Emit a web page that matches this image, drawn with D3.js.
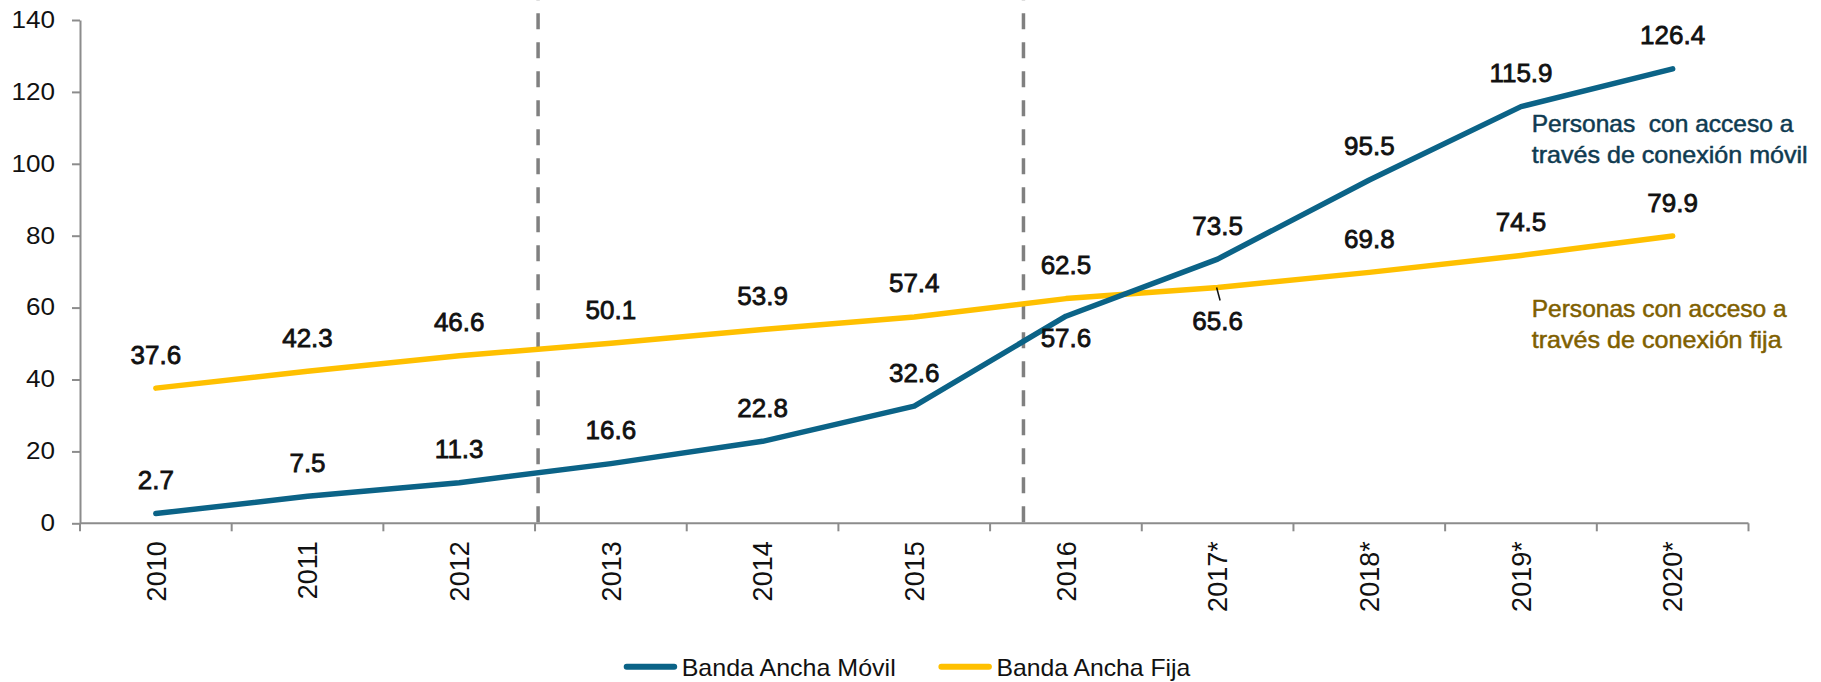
<!DOCTYPE html>
<html><head><meta charset="utf-8">
<script src="https://cdn.jsdelivr.net/npm/d3@7"></script>
<style>html,body{margin:0;padding:0;background:#fff;}svg{display:block;}</style>
</head><body>
<svg id="chart" width="1821" height="682"></svg>
<script>
const categories = ["2010","2011","2012","2013","2014","2015","2016","2017*","2018*","2019*","2020*"];
const movil = [2.7, 7.5, 11.3, 16.6, 22.8, 32.6, 57.6, 73.5, 95.5, 115.9, 126.4];
const fija  = [37.6, 42.3, 46.6, 50.1, 53.9, 57.4, 62.5, 65.6, 69.8, 74.5, 79.9];
const yTicks = [0, 20, 40, 60, 80, 100, 120, 140];
const seriesNames = ["Banda Ancha Móvil", "Banda Ancha Fija"];
const periodBreaks = [2.52, 5.72]; // category-index positions of dashed separators
const notesMovil = ["Personas  con acceso a", "través de conexión móvil"];
const notesFija = ["Personas con acceso a", "través de conexión fija"];

(function () {
const svg = d3.select("#chart");
const mLeft = 80, mRight = 1748.5, mTop = 20, mBottom = 523.3;
const axisColor = "#8c8c8c";
const cBlue = "#0b6387", cGold = "#ffc000";
const font = "Liberation Sans, Arial, sans-serif";

const x = d3.scaleBand().domain(categories).range([mLeft, mRight]).padding(0);
const xi = d3.scaleLinear().domain([-0.5, categories.length - 0.5]).range([mLeft, mRight]);
const y = d3.scaleLinear().domain([0, 140]).range([mBottom, mTop]);
const cx = c => x(c) + x.bandwidth() / 2;

// Y axis
const yAxis = svg.append("g").attr("transform", `translate(${mLeft},0)`)
  .call(d3.axisLeft(y).tickValues(yTicks).tickSize(8).tickSizeOuter(0).tickPadding(17));
yAxis.select(".domain").attr("stroke", axisColor).attr("stroke-width", 2);
yAxis.selectAll(".tick line").attr("stroke", axisColor).attr("stroke-width", 2);
yAxis.selectAll(".tick text")
  .attr("font-family", font).attr("font-size", 23).attr("fill", "#111")
  .attr("textLength", d => String(d).length * 14.5).attr("lengthAdjust", "spacingAndGlyphs");

// X axis (boundary ticks, labels at band centers)
const xg = svg.append("g");
xg.append("line").attr("x1", mLeft).attr("x2", mRight).attr("y1", mBottom).attr("y2", mBottom)
  .attr("stroke", axisColor).attr("stroke-width", 2);
const bounds = categories.map(c => x(c)).concat([x(categories[categories.length-1]) + x.bandwidth()]);
xg.selectAll("line.tk").data(bounds).join("line").attr("class", "tk")
  .attr("x1", d => d).attr("x2", d => d).attr("y1", mBottom).attr("y2", mBottom + 8)
  .attr("stroke", axisColor).attr("stroke-width", 2);
xg.selectAll("text").data(categories).join("text")
  .attr("transform", d => `translate(${cx(d)},${mBottom + 18}) rotate(-90)`)
  .attr("text-anchor", "end").attr("dy", "0.36em")
  .attr("font-family", font).attr("font-size", 27).attr("fill", "#111")
  .text(d => d);

// dashed period separators
svg.selectAll("line.sep").data(periodBreaks).join("line").attr("class", "sep")
  .attr("x1", d => xi(d)).attr("x2", d => xi(d)).attr("y1", -15.7).attr("y2", mBottom + 5)
  .attr("stroke", "#808080").attr("stroke-width", 3.5).attr("stroke-dasharray", "16,13");

// lines
const line = d3.line().x((d, i) => cx(categories[i])).y(d => y(d));
svg.append("path").datum(fija).attr("d", line).attr("fill", "none")
  .attr("stroke", cGold).attr("stroke-width", 5.5).attr("stroke-linecap", "round").attr("stroke-linejoin", "round");
svg.append("path").datum(movil).attr("d", line).attr("fill", "none")
  .attr("stroke", cBlue).attr("stroke-width", 5.5).attr("stroke-linecap", "round").attr("stroke-linejoin", "round");

// data labels
function labels(vals, below) {
  svg.append("g").selectAll("text").data(vals).join("text")
    .attr("x", (d, i) => cx(categories[i]))
    .attr("y", (d, i) => y(d) + (below[i] !== undefined ? below[i] : -24.5))
    .attr("text-anchor", "middle")
    .attr("font-family", font).attr("font-size", 26).attr("fill", "#111")
    .attr("stroke", "#111").attr("stroke-width", 0.8)
    .text(d => d.toFixed(1));
}
labels(movil, {6: 31});
labels(fija, {7: 42.5});
// leader line for 65.6
svg.append("line")
  .attr("x1", cx(categories[7]) - 1).attr("y1", y(fija[7]))
  .attr("x2", cx(categories[7]) + 2.5).attr("y2", y(fija[7]) + 13)
  .attr("stroke", "#111").attr("stroke-width", 1.5);

// annotations
function note(lines, color, x0, y0, lens) {
  svg.append("g").selectAll("text").data(lines).join("text")
    .attr("x", x0).attr("y", (d, i) => y0 + i * 31.7)
    .attr("font-family", font).attr("font-size", 24)
    .attr("fill", color).attr("stroke", color).attr("stroke-width", 0.5).style("white-space", "pre")
    .attr("textLength", (d, i) => lens[i]).attr("lengthAdjust", "spacingAndGlyphs")
    .text(d => d);
}
note(notesMovil, "#0f3b51", 1531.7, 131.7, [261.6, 276]);
note(notesFija, "#7f6000", 1531.7, 316.7, [255, 250]);

// legend
const legend = svg.append("g");
const legItems = [{n: seriesNames[0], c: cBlue, x0: 623.7, w: 214}, {n: seriesNames[1], c: cGold, x0: 938.4, w: 194}];
legItems.forEach(it => {
  legend.append("line").attr("x1", it.x0 + 3).attr("x2", it.x0 + 50.5).attr("y1", 666.7).attr("y2", 666.7)
    .attr("stroke", it.c).attr("stroke-width", 6).attr("stroke-linecap", "round");
  legend.append("text").attr("x", it.x0 + 58).attr("y", 675.5)
    .attr("font-family", font).attr("font-size", 24).attr("fill", "#111")
    .attr("textLength", it.w).attr("lengthAdjust", "spacingAndGlyphs")
    .text(it.n);
});
})();
</script>
</body></html>
